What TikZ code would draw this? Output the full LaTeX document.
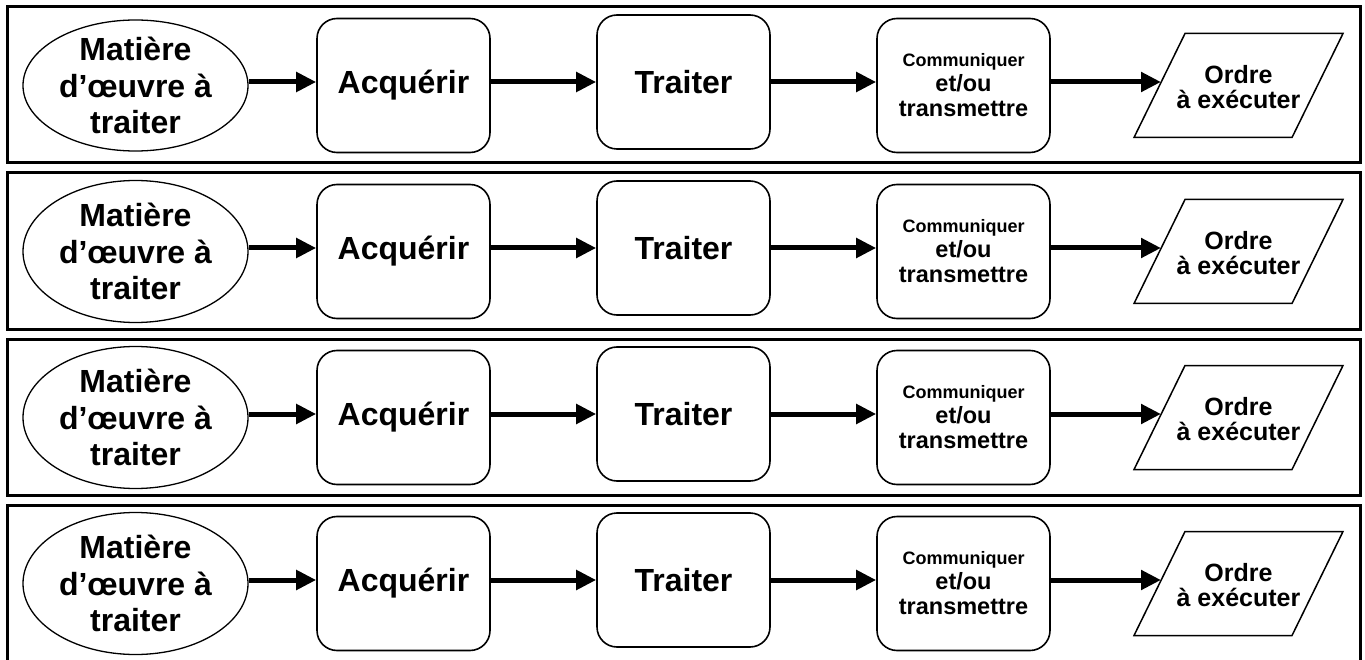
\documentclass[tikz,border=0pt]{standalone}
\usepackage{fontspec}
\setmainfont{Liberation Sans}
\usetikzlibrary{arrows.meta,shapes.geometric}
\begin{document}
\begin{tikzpicture}[x=1pt,y=-1pt,
  frame/.style={line width=3pt},
  boxnode/.style={draw, line width=1.6pt, rounded corners=20pt, minimum width=173pt, minimum height=134pt, inner sep=0pt, align=center, font=\bfseries\fontsize{32}{37}\selectfont},
  commnode/.style={boxnode, font=\bfseries\fontsize{23.5}{25}\selectfont},
  ell/.style={draw, ellipse, line width=1.3pt, minimum width=225pt, inner sep=0pt},
  elltext/.style={align=center, inner sep=0pt, font=\bfseries\fontsize{32}{36.5}\selectfont},
  ordtext/.style={align=center, inner sep=0pt, font=\bfseries\fontsize{25}{25}\selectfont},
  para/.style={line width=1.5pt},
  arr/.style={line width=5pt, -{Triangle[length=20pt,width=19pt]}}
]
\useasboundingbox (0,0) rectangle (1365,660);
\fill[white] (0,0) rectangle (1365,660);
% frames
\draw[frame] (7,7) rectangle (1360,163);
\draw[frame] (7,173) rectangle (1360,329);
\draw[frame] (7,339) rectangle (1360,495);
\draw[frame] (7,680) -- (7,505) -- (1360,505) -- (1360,680);
\foreach \T/\eh [count=\i] in {7/131,173/142,339/142,505/142}{
  \node[ell, minimum height=\eh pt] (m\i) at (135.5,\T+78.5) {};
  \node[elltext] (mt\i) at (m\i.center) {Matière\\d’œuvre à\\traiter};
  \node[boxnode] (a\i) at (403.5,\T+78.5) {Acquérir};
  \node[boxnode] (t\i) at (683.5,\T+75) {Traiter};
  \node[commnode] (c\i) at (963.5,\T+78.5) {{\fontsize{18}{25}\selectfont Communiquer}\\et/ou\\transmettre};
  \coordinate (p\i a) at (1134,\T+130.5);
  \coordinate (p\i b) at (1185,\T+26.5);
  \coordinate (p\i c) at (1343,\T+26.5);
  \coordinate (p\i d) at (1292,\T+130.5);
  \draw[para] (p\i a) -- (p\i b) -- (p\i c) -- (p\i d) -- cycle;
  \coordinate (pin\i) at (1161,\T+75);
  \node[ordtext] (o\i) at (1238.5,\T+80) {Ordre\\à exécuter};
  \draw[arr] (m\i.east |- t\i.center) -- (a\i.west |- t\i.center);
  \draw[arr] (a\i.east |- t\i.center) -- (t\i.west);
  \draw[arr] (t\i.east) -- (c\i.west |- t\i.center);
  \draw[arr] (c\i.east |- t\i.center) -- (pin\i);
}
\end{tikzpicture}
\end{document}
